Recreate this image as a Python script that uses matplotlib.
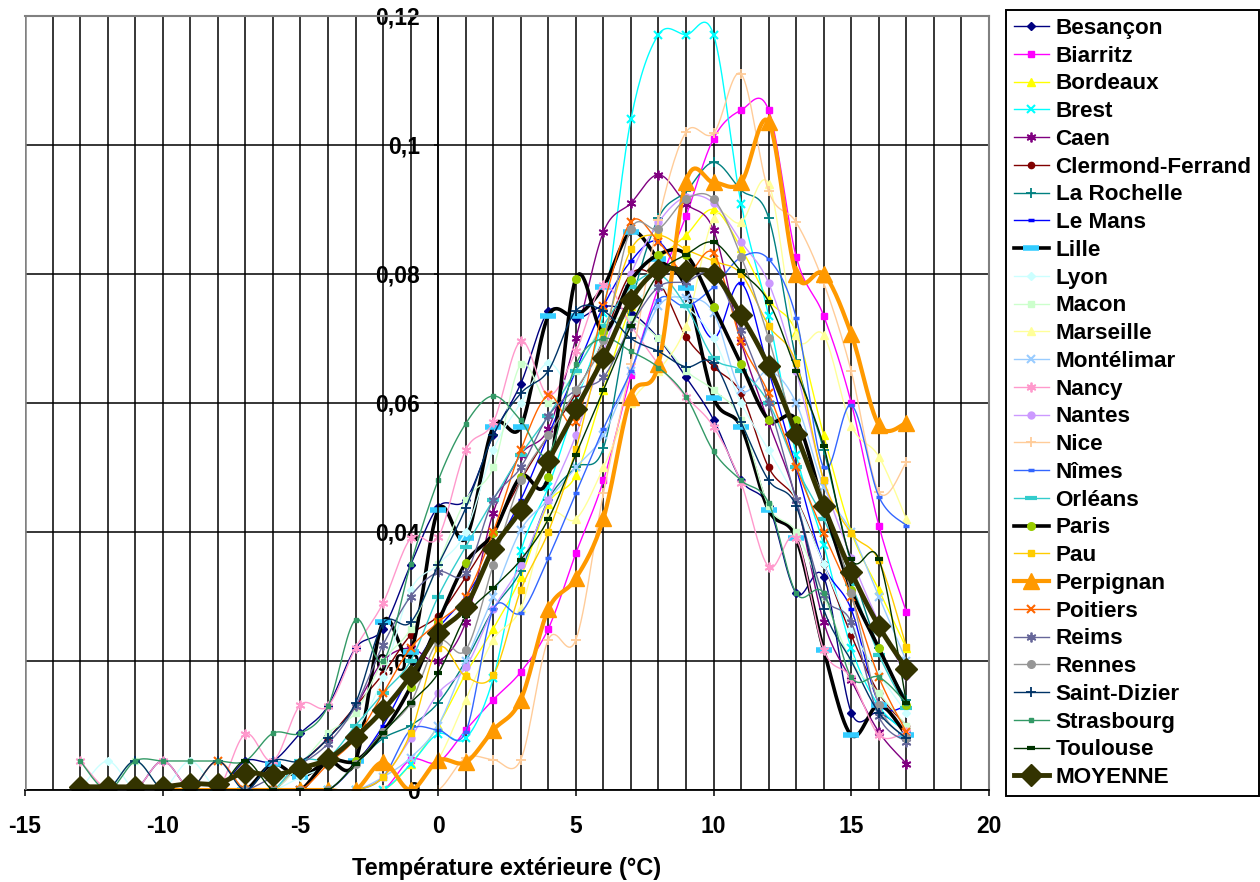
import matplotlib
matplotlib.use("Agg")
import matplotlib.pyplot as plt
from matplotlib.lines import Line2D
from matplotlib.ticker import FixedLocator, FixedFormatter, MultipleLocator
import numpy as np

plt.rcParams['font.family'] = ['Liberation Sans', 'DejaVu Sans']
plt.rcParams['font.weight'] = 'bold'
plt.rcParams['axes.unicode_minus'] = False

temperatures = list(range(-13, 18))

besancon = [0, 0, 0, 0.0045, 0, 0, 0.0045, 0.0045, 0.0088, 0.013, 0.022, 0.025, 0.0349, 0.0439, 0.045, 0.055,
            0.063, 0.0742, 0.073, 0.075, 0.074, 0.07, 0.064, 0.0574, 0.048, 0.044, 0.0305, 0.033, 0.012, 0.012, 0.009]
biarritz = [0, 0, 0, 0, 0, 0, 0, 0, 0, 0, 0, 0, 0.0047, 0.0043, 0.0093, 0.014,
            0.0183, 0.025, 0.0367, 0.048, 0.0643, 0.078, 0.089, 0.101, 0.1054, 0.1054, 0.0827, 0.0735, 0.06, 0.041, 0.0276]
bordeaux = [0, 0, 0, 0, 0, 0, 0, 0, 0, 0, 0, 0, 0.004, 0.01, 0.018, 0.025,
            0.033, 0.0444, 0.0488, 0.062, 0.075, 0.082, 0.086, 0.09, 0.084, 0.076, 0.071, 0.055, 0.04, 0.031, 0.022]
brest = [0, 0, 0, 0, 0, 0, 0, 0, 0, 0, 0, 0, 0.004, 0.0087, 0.008, 0.0173,
         0.037, 0.047, 0.06, 0.074, 0.104, 0.1171, 0.1171, 0.1171, 0.0909, 0.0735, 0.052, 0.038, 0.022, 0.013, 0.009]
caen = [0, 0, 0, 0, 0, 0, 0, 0, 0.004, 0.008, 0.013, 0.02, 0.022, 0.02, 0.026, 0.043,
        0.052, 0.056, 0.07, 0.0865, 0.091, 0.0954, 0.0909, 0.0868, 0.0695, 0.057, 0.045, 0.026, 0.017, 0.009, 0.0041]
clermont = [0, 0, 0, 0, 0, 0, 0, 0, 0.004, 0.008, 0.013, 0.018, 0.024, 0.027, 0.033, 0.04,
            0.048, 0.055, 0.0615, 0.07, 0.08, 0.0788, 0.0703, 0.0656, 0.0615, 0.05, 0.045, 0.035, 0.024, 0.015, 0.01]
la_rochelle = [0, 0, 0, 0, 0, 0, 0, 0, 0, 0, 0.004, 0.008, 0.01, 0.0135, 0.02, 0.028,
               0.034, 0.045, 0.05, 0.053, 0.075, 0.0887, 0.0928, 0.0973, 0.093, 0.0887, 0.0667, 0.0527, 0.035, 0.022, 0.014]
le_mans = [0, 0, 0, 0, 0, 0, 0, 0, 0, 0, 0.004, 0.01, 0.018, 0.025, 0.03, 0.037,
           0.045, 0.055, 0.065, 0.075, 0.082, 0.085, 0.078, 0.07, 0.0786, 0.065, 0.05, 0.035, 0.028, 0.0135, 0.013]
lille = [0, 0, 0, 0, 0, 0, 0, 0.004, 0.002, 0.0045, 0.0045, 0.0261, 0.0214, 0.0434, 0.039, 0.0563,
         0.0563, 0.0735, 0.0735, 0.078, 0.0865, 0.0823, 0.0778, 0.0608, 0.0563, 0.0434, 0.039, 0.0217, 0.0085, 0.0132, 0.0085]
lyon = [0, 0.0045, 0, 0, 0.0045, 0, 0, 0, 0.002, 0.004, 0.009, 0.0175, 0.031, 0.035, 0.04, 0.0527,
        0.06, 0.0662, 0.062, 0.07, 0.075, 0.078, 0.075, 0.07, 0.06, 0.0527, 0.045, 0.035, 0.025, 0.018, 0.012]
macon = [0, 0, 0.0045, 0, 0, 0, 0, 0, 0.004, 0.0088, 0.012, 0.02, 0.025, 0.035, 0.045, 0.05,
         0.066, 0.06, 0.065, 0.072, 0.073, 0.07, 0.065, 0.062, 0.0574, 0.044, 0.04, 0.03, 0.02, 0.015, 0.01]
marseille = [0, 0, 0, 0, 0, 0, 0, 0, 0, 0, 0, 0, 0, 0.0047, 0.014, 0.0233,
             0.0282, 0.0424, 0.042, 0.05, 0.06, 0.065, 0.072, 0.0887, 0.088, 0.094, 0.0705, 0.0705, 0.0565, 0.0517, 0.042]
montelimar = [0, 0, 0, 0, 0, 0, 0, 0, 0, 0, 0, 0.002, 0.005, 0.01, 0.02, 0.03,
              0.0403, 0.045, 0.05, 0.055, 0.065, 0.075, 0.0763, 0.074, 0.062, 0.065, 0.06, 0.047, 0.04, 0.03, 0.02]
nancy = [0.0045, 0, 0, 0.0045, 0, 0, 0.0087, 0.0045, 0.0132, 0.013, 0.022, 0.029, 0.039, 0.0392, 0.0527, 0.057,
         0.0696, 0.0612, 0.068, 0.0783, 0.072, 0.066, 0.061, 0.0563, 0.0476, 0.0346, 0.039, 0.0217, 0.0174, 0.0085, 0.009]
nantes = [0, 0, 0, 0, 0, 0, 0, 0, 0, 0, 0, 0.002, 0.008, 0.015, 0.019, 0.028,
          0.0349, 0.045, 0.055, 0.068, 0.08, 0.088, 0.092, 0.091, 0.085, 0.0786, 0.065, 0.048, 0.036, 0.026, 0.0176]
nice = [0, 0, 0, 0, 0, 0, 0, 0, 0, 0, 0, 0, 0, 0, 0.005, 0.0047,
        0.0047, 0.0233, 0.0233, 0.046, 0.066, 0.0884, 0.102, 0.1018, 0.111, 0.0928, 0.088, 0.0786, 0.0649, 0.0462, 0.0508]
nimes = [0, 0, 0, 0, 0, 0, 0, 0, 0, 0, 0, 0.002, 0.0093, 0.0093, 0.009, 0.028,
         0.0275, 0.036, 0.046, 0.056, 0.065, 0.076, 0.075, 0.078, 0.0826, 0.0823, 0.0732, 0.05, 0.0597, 0.0455, 0.041]
orleans = [0, 0, 0, 0, 0, 0, 0, 0, 0.0045, 0.005, 0.01, 0.015, 0.02, 0.03, 0.0377, 0.045,
           0.052, 0.058, 0.065, 0.072, 0.078, 0.08, 0.075, 0.067, 0.065, 0.06, 0.05, 0.042, 0.032, 0.021, 0.0127]
paris = [0, 0, 0, 0, 0, 0, 0, 0, 0, 0.0045, 0.0045, 0.009, 0.016, 0.026, 0.0352, 0.0398,
         0.0486, 0.0486, 0.0793, 0.071, 0.079, 0.083, 0.083, 0.0749, 0.066, 0.0574, 0.0574, 0.044, 0.031, 0.022, 0.0132]
pau = [0, 0, 0, 0, 0, 0, 0, 0, 0, 0, 0, 0.002, 0.0088, 0.022, 0.0176, 0.0178,
       0.031, 0.04, 0.0528, 0.07, 0.0838, 0.086, 0.0838, 0.082, 0.08, 0.072, 0.0662, 0.048, 0.0398, 0.0356, 0.0222]
perpignan = [0, 0, 0, 0, 0, 0, 0, 0, 0, 0, 0, 0.0043, 0, 0.0046, 0.0043, 0.0093,
             0.014, 0.028, 0.0328, 0.0421, 0.061, 0.066, 0.0943, 0.0942, 0.0942, 0.1036, 0.08, 0.08, 0.0707, 0.0566, 0.0569]
poitiers = [0, 0, 0, 0, 0, 0.0045, 0, 0, 0, 0.004, 0.008, 0.015, 0.022, 0.026, 0.03, 0.04,
            0.0527, 0.0612, 0.0571, 0.075, 0.0881, 0.085, 0.08, 0.0832, 0.0696, 0.0615, 0.05, 0.0398, 0.03, 0.0175, 0.009]
reims = [0, 0, 0, 0, 0, 0, 0, 0.002, 0.004, 0.0072, 0.013, 0.0225, 0.03, 0.0338, 0.0336, 0.045,
         0.05, 0.058, 0.062, 0.064, 0.072, 0.078, 0.0788, 0.08, 0.0713, 0.06, 0.045, 0.0302, 0.026, 0.0114, 0.0075]
rennes = [0, 0, 0, 0, 0, 0, 0, 0, 0, 0, 0.004, 0.009, 0.0135, 0.023, 0.0217, 0.0349,
          0.048, 0.055, 0.062, 0.0698, 0.087, 0.087, 0.0916, 0.0916, 0.0827, 0.07, 0.055, 0.045, 0.0305, 0.0132, 0.008]
saint_dizier = [0, 0, 0.0045, 0, 0, 0.0045, 0, 0.0045, 0.0045, 0.008, 0.0135, 0.0258, 0.026, 0.0349, 0.0437, 0.055,
                0.0615, 0.065, 0.0743, 0.0743, 0.07, 0.068, 0.0656, 0.0662, 0.057, 0.048, 0.044, 0.028, 0.02, 0.012, 0.008]
strasbourg = [0.0045, 0, 0.0045, 0.0045, 0.0045, 0.0045, 0.0045, 0.0088, 0.0088, 0.013, 0.0264, 0.02, 0.035, 0.048, 0.0568, 0.0611,
              0.0573, 0.052, 0.066, 0.07, 0.068, 0.0655, 0.061, 0.0525, 0.048, 0.0445, 0.0305, 0.0305, 0.0175, 0.0175, 0.0135]
toulouse = [0, 0, 0, 0, 0, 0, 0.0045, 0, 0, 0, 0.004, 0.0088, 0.0135, 0.0181, 0.0269, 0.0313,
            0.0357, 0.042, 0.052, 0.062, 0.072, 0.08, 0.083, 0.0849, 0.0804, 0.0757, 0.065, 0.0533, 0.0358, 0.0358, 0.0135]
moyenne = [0.0005, 0.0005, 0.0005, 0.0005, 0.001, 0.001, 0.0027, 0.0023, 0.0034, 0.0048, 0.0082, 0.0124, 0.0177, 0.0243, 0.0284, 0.0374,
           0.0434, 0.051, 0.059, 0.067, 0.076, 0.0806, 0.0805, 0.08, 0.0736, 0.0657, 0.0552, 0.044, 0.0338, 0.0254, 0.0188]

names = ['Besançon', 'Biarritz', 'Bordeaux', 'Brest', 'Caen', 'Clermond-Ferrand', 'La Rochelle', 'Le Mans',
         'Lille', 'Lyon', 'Macon', 'Marseille', 'Montélimar', 'Nancy', 'Nantes', 'Nice', 'Nîmes', 'Orléans',
         'Paris', 'Pau', 'Perpignan', 'Poitiers', 'Reims', 'Rennes', 'Saint-Dizier', 'Strasbourg', 'Toulouse',
         'MOYENNE']
series = [besancon, biarritz, bordeaux, brest, caen, clermont, la_rochelle, le_mans,
          lille, lyon, macon, marseille, montelimar, nancy, nantes, nice, nimes, orleans,
          paris, pau, perpignan, poitiers, reims, rennes, saint_dizier, strasbourg, toulouse,
          moyenne]

x_ticks = [-15, -10, -5, 0, 5, 10, 15, 20]
y_ticks = [0, 0.02, 0.04, 0.06, 0.08, 0.1, 0.12]
y_tick_labels = ['0', '0,02', '0,04', '0,06', '0,08', '0,1', '0,12']

ASTER = (6, 2, 0)
# line colour, line width, marker, marker size, marker colour, marker edge width
styles = [
    ('#000080', 1.0, 'D', 4, '#000080', 1),
    ('#FF00FF', 1.0, 's', 5, '#FF00FF', 1),
    ('#FFFF00', 1.0, '^', 6, '#FFFF00', 1),
    ('#00FFFF', 1.0, 'x', 6, '#00FFFF', 1.5),
    ('#800080', 1.0, ASTER, 7, '#800080', 1.3),
    ('#800000', 1.0, 'o', 4.5, '#800000', 1),
    ('#008080', 1.0, '+', 7, '#008080', 1.3),
    ('#0000FF', 1.0, '_', 5, '#0000FF', 2.5),
    ('#000000', 2.6, '_', 11, '#33CCFF', 4),
    ('#CCFFFF', 1.0, 'D', 4.5, '#CCFFFF', 1),
    ('#CCFFCC', 1.0, 's', 5, '#CCFFCC', 1),
    ('#FFFF99', 1.0, '^', 6, '#FFFF99', 1),
    ('#99CCFF', 1.0, 'x', 6, '#99CCFF', 1.5),
    ('#FF99CC', 1.0, ASTER, 7, '#FF99CC', 1.3),
    ('#CC99FF', 1.0, 'o', 5, '#CC99FF', 1),
    ('#FFCC99', 1.0, '+', 7, '#FFCC99', 1.3),
    ('#3366FF', 1.0, '_', 5, '#3366FF', 2.5),
    ('#33CCCC', 1.0, '_', 8, '#33CCCC', 3),
    ('#000000', 2.6, 'o', 5.5, '#99CC00', 1),
    ('#FFCC00', 1.0, 's', 5, '#FFCC00', 1),
    ('#FF9900', 3.0, '^', 12, '#FF9900', 1),
    ('#FF6600', 1.0, 'x', 6, '#FF6600', 1.5),
    ('#666699', 1.0, ASTER, 7, '#666699', 1.3),
    ('#969696', 1.0, 'o', 5.5, '#969696', 1),
    ('#003366', 1.0, '+', 7, '#003366', 1.3),
    ('#339966', 1.0, 's', 3, '#339966', 1),
    ('#003300', 1.0, '_', 6, '#003300', 3),
    ('#333300', 3.5, 'D', 11, '#333300', 1),
]


def smooth(x, y, n=16):
    # Catmull-Rom curve through the points, the way spreadsheet "smoothed lines" look
    x = np.asarray(x, float)
    y = np.asarray(y, float)
    px = np.concatenate([[x[0]], x, [x[-1]]])
    py = np.concatenate([[y[0]], y, [y[-1]]])
    t = np.linspace(0, 1, n, endpoint=False)
    xs, ys = [], []
    for i in range(1, len(px) - 2):
        for arr, out in ((px, xs), (py, ys)):
            p0, p1, p2, p3 = arr[i - 1:i + 3]
            out.extend(0.5 * (2 * p1 + (p2 - p0) * t + (2 * p0 - 5 * p1 + 4 * p2 - p3) * t ** 2
                              + (3 * p1 - p0 - 3 * p2 + p3) * t ** 3))
    xs.append(x[-1])
    ys.append(y[-1])
    return np.array(xs), np.array(ys)


fig = plt.figure(figsize=(12.6, 8.82), dpi=100)
ax = fig.add_axes([25 / 1260, 1 - 790 / 882, 964 / 1260, 774 / 882])

handles = []
for name, values, (color, lw, marker, ms, mcolor, mew) in zip(names, series, styles):
    sx, sy = smooth(temperatures, values)
    ax.plot(sx, sy, color=color, lw=lw, solid_joinstyle='round')
    ax.plot(temperatures, values, ls='none', marker=marker, ms=ms, mfc=mcolor, mec=mcolor, mew=mew)
    handles.append(Line2D([], [], color=color, lw=lw, marker=marker, ms=ms, mfc=mcolor, mec=mcolor,
                          mew=mew, label=name))

ax.set_xlim(-15, 20)
ax.set_ylim(0, 0.12)
ax.set_axisbelow(True)
ax.xaxis.set_major_locator(FixedLocator(x_ticks))
ax.xaxis.set_minor_locator(MultipleLocator(1))
ax.yaxis.set_major_locator(FixedLocator(y_ticks))
ax.yaxis.set_major_formatter(FixedFormatter(y_tick_labels))
ax.grid(axis='x', which='both', color='black', lw=1.1)
ax.grid(axis='y', which='major', color='black', lw=1.1)

ax.spines['left'].set_position(('data', 0))
ax.spines['left'].set_linewidth(1.1)
ax.spines['bottom'].set_linewidth(1.3)
for side in ('top', 'right'):
    ax.spines[side].set_color('#808080')
    ax.spines[side].set_linewidth(1.5)
ax.axvline(-15, color='#808080', lw=1.8, zorder=3)

ax.tick_params(axis='x', which='major', length=4, width=1.1, pad=14, labelsize=16.5)
ax.tick_params(axis='x', which='minor', length=0)
ax.tick_params(axis='y', length=3, width=1.1, pad=10, labelsize=16.5)
ax.set_xlabel('Température extérieure (°C)', fontsize=17, fontweight='bold', labelpad=14)

fig.legend(handles=handles, loc='upper left', bbox_to_anchor=(1006 / 1260, 1 - 10 / 882),
           frameon=True, fancybox=False, edgecolor='black', framealpha=1,
           prop={'size': 16.2, 'weight': 'bold'}, handlelength=1.55, handletextpad=0.3,
           borderpad=0.35, labelspacing=0.3, borderaxespad=0, numpoints=1)
fig.legends[0].get_frame().set_linewidth(1.4)

fig.savefig('out.png', dpi=100)
